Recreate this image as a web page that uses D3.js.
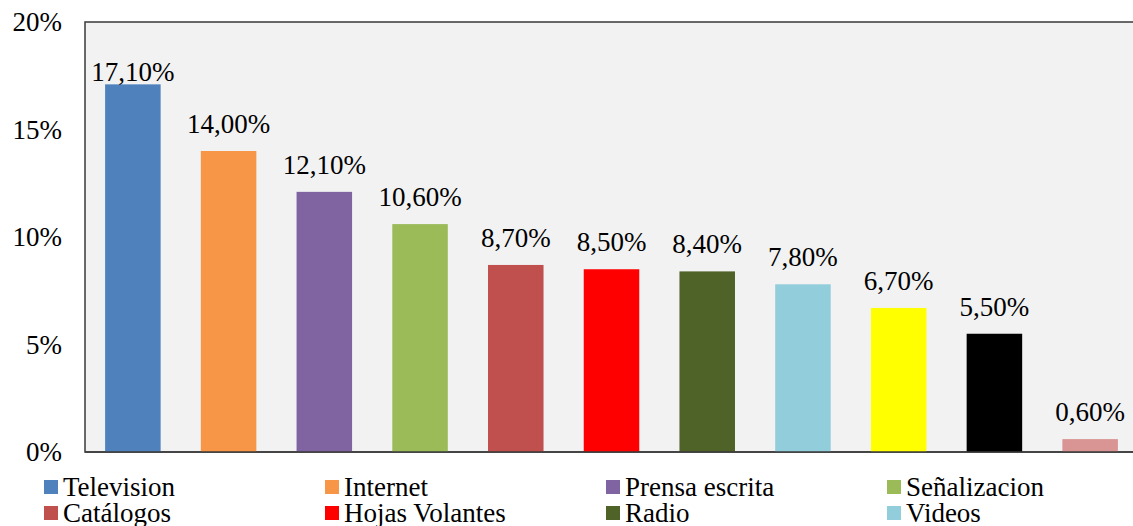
<!DOCTYPE html>
<html>
<head>
<meta charset="utf-8">
<script src="https://d3js.org/d3.v7.min.js"></script>
<style>
  body { margin: 0; background: #fff; }
</style>
</head>
<body>
<svg width="1133" height="526"></svg>
<script>

// data
var categories = ["Television", "Internet", "Prensa escrita", "Señalizacion", "Catálogos",
                  "Hojas Volantes", "Radio", "Videos", "Otro 1", "Otro 2", "Otro 3"];
var values = [17.1, 14.0, 12.1, 10.6, 8.7, 8.5, 8.4, 7.8, 6.7, 5.5, 0.6];
var colors = ["#4f81bd", "#f79646", "#8064a2", "#9bbb59", "#c0504d",
              "#ff0000", "#4f6228", "#92cddc", "#ffff00", "#000000", "#d99594"];
var yTicks = [0, 5, 10, 15, 20];
// only the first two legend rows are visible in the picture
var legendItems = categories.slice(0, 8);

var FONT = "'Liberation Serif', Tinos, 'Times New Roman', serif",
    FONT_SIZE = 27;

var svg = d3.select("svg"),
    plotLeft = 85, plotTop = 22, plotBottom = 452, plotRight = 1138;

var x = d3.scaleBand()
    .domain(categories)
    .range([plotLeft, plotRight])
    .paddingInner(0.42)
    .paddingOuter(0.21);

var y = d3.scaleLinear()
    .domain([0, 20])
    .range([plotBottom, plotTop]);

// plot background + frame
svg.append("rect")
    .attr("x", plotLeft)
    .attr("y", plotTop)
    .attr("width", plotRight - plotLeft)
    .attr("height", plotBottom - plotTop)
    .attr("fill", "#f2f2f2")
    .attr("stroke", "#3a3a3a")
    .attr("stroke-width", 1.5);

// y axis labels
var yAxis = d3.axisLeft(y)
    .tickValues(yTicks)
    .tickSize(0)
    .tickPadding(23)
    .tickFormat(function(d) { return d + "%"; });

svg.append("g")
    .attr("transform", "translate(" + plotLeft + ",0)")
    .call(yAxis)
    .call(function(g) { g.select(".domain").remove(); })
    .selectAll("text")
      .style("font-family", FONT)
      .style("font-size", FONT_SIZE + "px")
      .attr("fill", "#000");

// bars
svg.selectAll(".bar")
    .data(values)
  .enter().append("rect")
    .attr("class", "bar")
    .attr("x", function(d, i) { return x(categories[i]); })
    .attr("y", function(d) { return y(d); })
    .attr("width", x.bandwidth())
    .attr("height", function(d) { return plotBottom - y(d); })
    .attr("fill", function(d, i) { return colors[i]; });

// bottom axis line
svg.append("line")
    .attr("x1", plotLeft).attr("x2", plotRight)
    .attr("y1", plotBottom).attr("y2", plotBottom)
    .attr("stroke", "#3a3a3a")
    .attr("stroke-width", 1.5);

// value labels (the tallest one is pushed down close to its bar)
svg.selectAll(".val")
    .data(values)
  .enter().append("text")
    .attr("class", "val")
    .attr("x", function(d, i) { return x(categories[i]) + x.bandwidth() / 2; })
    .attr("y", function(d) { return Math.max(y(d) - 18, plotTop + 59); })
    .attr("text-anchor", "middle")
    .style("font-family", FONT)
    .style("font-size", FONT_SIZE + "px")
    .text(function(d) { return d.toFixed(2).replace(".", ",") + "%"; });

// legend
var legend = svg.selectAll(".legend")
    .data(legendItems)
  .enter().append("g")
    .attr("class", "legend")
    .attr("transform", function(d, i) {
      return "translate(" + (44 + (i % 4) * 281) + "," + (487 + Math.floor(i / 4) * 26) + ")";
    });

legend.append("rect")
    .attr("x", 0)
    .attr("y", -7)
    .attr("width", 14)
    .attr("height", 14)
    .attr("fill", function(d, i) { return colors[i]; });

legend.append("text")
    .attr("x", 19)
    .attr("y", 9)
    .style("font-family", FONT)
    .style("font-size", FONT_SIZE + "px")
    .text(function(d) { return d; });

</script>
</body>
</html>
